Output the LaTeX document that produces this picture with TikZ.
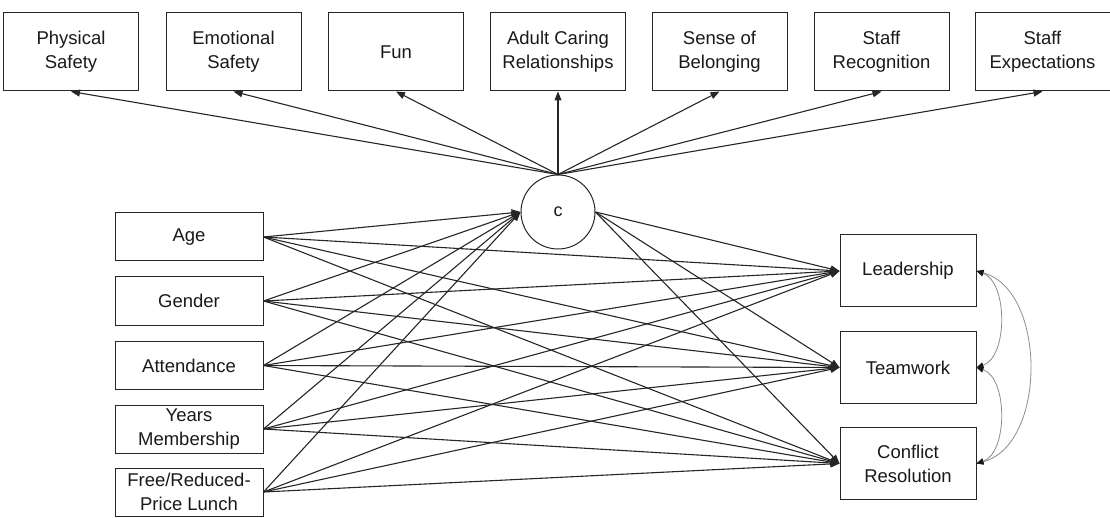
\documentclass[tikz,border=0pt]{standalone}
\usepackage{fontspec}
\setmainfont{Liberation Sans}
\usetikzlibrary{arrows.meta}
\begin{document}
\begin{tikzpicture}[x=1pt,y=-1pt,
  box/.style={draw=black!85, line width=1pt, align=center, inner sep=0pt,
    font=\fontsize{18.5}{24}\selectfont, text=black!90},
  topbox/.style={box, minimum width=135pt, minimum height=78pt},
  leftbox/.style={box, minimum width=148pt, minimum height=48pt},
  rightbox/.style={box, minimum width=136pt, minimum height=72pt},
  latent/.style={circle, draw=black!85, line width=1pt, minimum size=74pt, inner sep=0pt,
    font=\fontsize{18}{20}\selectfont, text=black!90},
  conn/.style={line width=1.1pt, draw=black!85, -{Triangle[length=9pt,width=7pt]}},
  corr/.style={line width=0.8pt, draw=black!45,
    {Triangle[length=7pt,width=6pt,fill=black!90,color=black!90]}-{Triangle[length=7pt,width=6pt,fill=black!90,color=black!90]}}]
\useasboundingbox (0,0) rectangle (1110,518);

% top indicator boxes
\node[topbox] (t1) at (71,52) {Physical\\Safety};
\node[topbox] (t2) at (233.5,52) {Emotional\\Safety};
\node[topbox] (t3) at (396,52) {Fun};
\node[topbox] (t4) at (558,52) {Adult Caring\\Relationships};
\node[topbox] (t5) at (719.5,52) {Sense of\\Belonging};
\node[topbox] (t6) at (881.5,52) {Staff\\Recognition};
\node[topbox] (t7) at (1042.5,52) {Staff\\Expectations};

% latent
\node[latent] (c) at (558,212) {c};

% left predictors
\node[leftbox] (l1) at (189,237) {Age};
\node[leftbox] (l2) at (189,301) {Gender};
\node[leftbox] (l3) at (189,365.5) {Attendance};
\node[leftbox] (l4) at (189,429) {Years\\Membership};
\node[leftbox] (l5) at (189,492) {Free/Reduced-\\Price Lunch};

% outcomes
\node[rightbox] (r1) at (908,271) {Leadership};
\node[rightbox] (r2) at (908,367.5) {Teamwork};
\node[rightbox] (r3) at (908,463.5) {Conflict\\Resolution};

% c -> indicators
\foreach \t in {t1,t2,t3,t4,t5,t6,t7}
  \draw[conn] (c.north) -- (\t.south);

% predictors -> c and outcomes
\foreach \l in {l1,l2,l3,l4,l5}{
  \draw[conn] (\l.east) -- (c.west);
  \foreach \r in {r1,r2,r3}
    \draw[conn] (\l.east) -- (\r.west);
}

% c -> outcomes
\foreach \r in {r1,r2,r3}
  \draw[conn] (c.east) -- (\r.west);

% residual correlations
\draw[corr] (r1.east) .. controls (1008,282) and (1008,357) .. (r2.east);
\draw[corr] (r2.east) .. controls (1008,378) and (1008,453) .. (r3.east);
\draw[corr] (r1.east) .. controls (1047,290) and (1047,445) .. (r3.east);
\end{tikzpicture}
\end{document}
